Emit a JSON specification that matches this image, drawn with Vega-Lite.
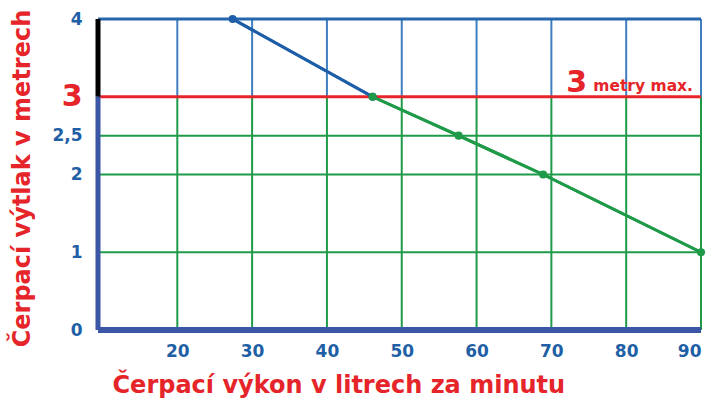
{
  "$schema": "https://vega.github.io/schema/vega-lite/v6.json",
  "width": 603,
  "height": 311,
  "autosize": {"type": "none"},
  "padding": {"left": 98, "top": 19, "right": 16, "bottom": 75},
  "background": "white",
  "config": {"view": {"stroke": null}, "font": "DejaVu Sans"},
  "datasets": {
    "krivka": [
      {"q": 27.4, "h": 4, "usek": "nad"},
      {"q": 46.1, "h": 3, "usek": "nad"},
      {"q": 46.1, "h": 3, "usek": "pod"},
      {"q": 57.6, "h": 2.5, "usek": "pod"},
      {"q": 68.9, "h": 2, "usek": "pod"},
      {"q": 90, "h": 1, "usek": "pod"}
    ],
    "svisle": [{"q": 20}, {"q": 30}, {"q": 40}, {"q": 50}, {"q": 60}, {"q": 70}, {"q": 80}, {"q": 90}],
    "vodorovne": [{"h": 1}, {"h": 2}, {"h": 2.5}],
    "jeden": [{}]
  },
  "layer": [
    {
      "data": {"name": "krivka"},
      "mark": {"type": "line", "strokeWidth": 3},
      "encoding": {
        "x": {
          "field": "q", "type": "quantitative",
          "scale": {"domain": [9.4, 90], "nice": false, "zero": false},
          "axis": {
            "title": "Čerpací výkon v litrech za minutu",
            "values": [20, 30, 40, 50, 60, 70, 80, 90],
            "grid": false, "domain": false, "ticks": false,
            "labelFont": "DejaVu Sans", "labelFontWeight": "bold", "labelFontSize": 17,
            "labelColor": "#1f5fa6", "labelPadding": 13,
            "titleFont": "DejaVu Sans", "titleFontSize": 24, "titleFontWeight": "bold",
            "titleColor": "#e5252a", "titleX": 14, "titleY": 55,
            "titleAlign": "left", "titleBaseline": "middle"
          }
        },
        "y": {
          "field": "h", "type": "quantitative",
          "scale": {"domain": [0, 4], "nice": false, "zero": true},
          "axis": {
            "title": "Čerpací výtlak v metrech",
            "values": [0, 1, 2, 2.5, 3, 4],
            "labelExpr": "replace(format(datum.value, '~g'), '.', ',')",
            "grid": false, "domain": false, "ticks": false,
            "labelFont": "DejaVu Sans", "labelFontWeight": "bold",
            "labelFontSize": {"condition": {"test": "datum.value == 3", "value": 30}, "value": 17},
            "labelColor": {"condition": {"test": "datum.value == 3", "value": "#e5252a"}, "value": "#1f5fa6"},
            "labelPadding": 16,
            "titleFont": "DejaVu Sans", "titleFontSize": 24, "titleFontWeight": "bold",
            "titleColor": "#e5252a", "titleX": -76, "titleY": 159, "titleAngle": -90,
            "titleAlign": "center", "titleBaseline": "middle"
          }
        },
        "color": {"field": "usek", "type": "nominal", "scale": {"domain": ["nad", "pod"], "range": ["#1e5ea8", "#1f9a48"]}, "legend": null}
      }
    },
    {
      "data": {"name": "svisle"},
      "mark": {"type": "rule", "color": "#3f7fc0", "strokeWidth": 2},
      "encoding": {
        "x": {"field": "q", "type": "quantitative"},
        "y": {"datum": 3, "type": "quantitative"},
        "y2": {"datum": 4}
      }
    },
    {
      "data": {"name": "svisle"},
      "mark": {"type": "rule", "color": "#1f9a48", "strokeWidth": 2},
      "encoding": {
        "x": {"field": "q", "type": "quantitative"},
        "y": {"datum": 0, "type": "quantitative"},
        "y2": {"datum": 3}
      }
    },
    {
      "data": {"name": "vodorovne"},
      "mark": {"type": "rule", "color": "#1f9a48", "strokeWidth": 2},
      "encoding": {
        "y": {"field": "h", "type": "quantitative"},
        "x": {"datum": 9.4, "type": "quantitative"},
        "x2": {"datum": 90}
      }
    },
    {
      "data": {"name": "jeden"},
      "mark": {"type": "rule", "color": "#2566ad", "strokeWidth": 3},
      "encoding": {
        "y": {"datum": 4, "type": "quantitative"},
        "x": {"datum": 9.4, "type": "quantitative"},
        "x2": {"datum": 90}
      }
    },
    {
      "data": {"name": "jeden"},
      "mark": {"type": "rule", "color": "#e5252a", "strokeWidth": 3},
      "encoding": {
        "y": {"datum": 3, "type": "quantitative"},
        "x": {"datum": 9.4, "type": "quantitative"},
        "x2": {"datum": 90}
      }
    },
    {
      "data": {"name": "jeden"},
      "mark": {"type": "rule", "color": "#000000", "strokeWidth": 5},
      "encoding": {
        "x": {"datum": 9.4, "type": "quantitative"},
        "y": {"datum": 3, "type": "quantitative"},
        "y2": {"datum": 4}
      }
    },
    {
      "data": {"name": "jeden"},
      "mark": {"type": "rule", "color": "#3a56a4", "strokeWidth": 6},
      "encoding": {
        "y": {"datum": 0, "type": "quantitative"},
        "x": {"datum": 9.4, "type": "quantitative"},
        "x2": {"datum": 90}
      }
    },
    {
      "data": {"name": "jeden"},
      "mark": {"type": "rule", "color": "#3a56a4", "strokeWidth": 5},
      "encoding": {
        "x": {"datum": 9.4, "type": "quantitative"},
        "y": {"datum": 0, "type": "quantitative"},
        "y2": {"datum": 3}
      }
    },
    {
      "data": {"name": "krivka"},
      "mark": {"type": "line", "strokeWidth": 3},
      "encoding": {
        "x": {"field": "q", "type": "quantitative"},
        "y": {"field": "h", "type": "quantitative"},
        "color": {"field": "usek", "type": "nominal", "legend": null}
      }
    },
    {
      "data": {"name": "krivka"},
      "mark": {"type": "point", "filled": true, "size": 65, "opacity": 1},
      "encoding": {
        "x": {"field": "q", "type": "quantitative"},
        "y": {"field": "h", "type": "quantitative"},
        "color": {"field": "usek", "type": "nominal", "legend": null}
      }
    },
    {
      "data": {"name": "jeden"},
      "mark": {"type": "text", "text": "metry max.", "align": "right", "baseline": "alphabetic", "dx": -8, "dy": -6, "font": "DejaVu Sans", "fontWeight": "bold", "fontSize": 15.5, "color": "#e5252a"},
      "encoding": {
        "x": {"datum": 90, "type": "quantitative"},
        "y": {"datum": 3, "type": "quantitative"}
      }
    },
    {
      "data": {"name": "jeden"},
      "mark": {"type": "text", "text": "3", "align": "right", "baseline": "alphabetic", "dx": -114, "dy": -5, "font": "DejaVu Sans", "fontWeight": "bold", "fontSize": 30, "color": "#e5252a"},
      "encoding": {
        "x": {"datum": 90, "type": "quantitative"},
        "y": {"datum": 3, "type": "quantitative"}
      }
    }
  ]
}
